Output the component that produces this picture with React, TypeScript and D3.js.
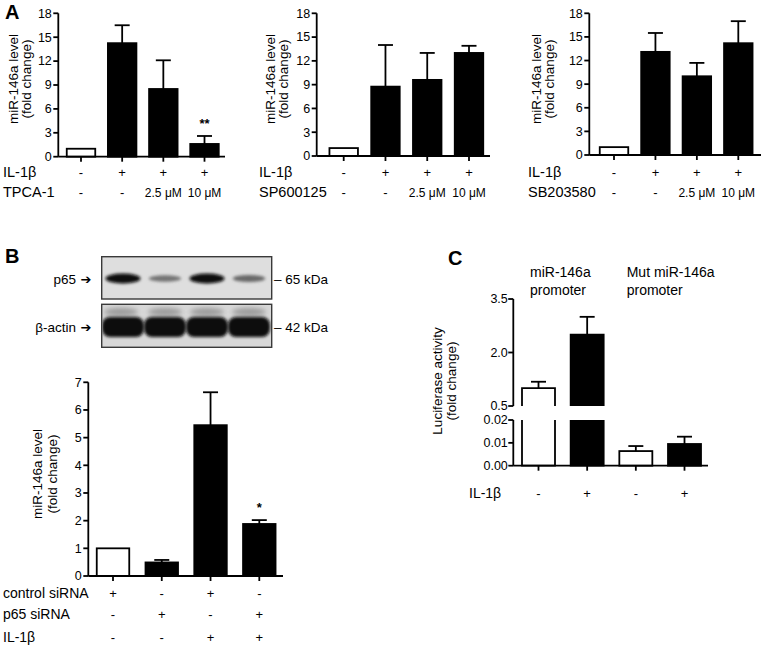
import React from "react";
import * as d3 from "d3";

const FONT = "'Liberation Sans', Arial, Helvetica, sans-serif";

// ---------- Panel A data ----------
const aTicks = [0, 3, 6, 9, 12, 15, 18];
const aIL1b = ["-", "+", "+", "+"];
const aDose = ["-", "-", "2.5 μM", "10 μM"];
const aInhibitors = ["TPCA-1", "SP600125", "SB203580"];
const tpcaMeans = [1, 14.25, 8.5, 1.6];
const tpcaErr = [0, 2.25, 3.6, 1.0];
const spMeans = [1, 8.75, 9.6, 13.0];
const spErr = [0, 5.25, 3.4, 0.9];
const sbMeans = [1, 13.1, 10.0, 14.2];
const sbErr = [0, 2.4, 1.7, 2.8];
const aFills = ["white", "black", "black", "black"];
const tpcaSig = ["", "", "", "**"];

// ---------- Panel B data ----------
const bTicks = [0, 1, 2, 3, 4, 5, 6, 7];
const bMeans = [1, 0.49, 5.45, 1.88];
const bErr = [0, 0.09, 1.19, 0.14];
const bFills = ["white", "black", "black", "black"];
const bSig = ["", "", "", "*"];
const bRows = ["control siRNA", "p65 siRNA", "IL-1β"];
const bRowVals = [
  ["+", "-", "+", "-"],
  ["-", "+", "-", "+"],
  ["-", "-", "+", "+"],
];
const blotP65 = [1, 0.45, 1, 0.5];
const blotActin = [1, 1, 1, 1];

// ---------- Panel C data ----------
const cUpperTicks = [0.5, 2.0, 3.5];
const cLowerTicks = [0, 0.01, 0.02];
const cMeans = [1.0, 2.5, 0.0064, 0.0095];
const cErr = [0.18, 0.5, 0.0022, 0.0032];
const cFills = ["white", "black", "white", "black"];
const cIL1b = ["-", "+", "-", "+"];
const cHeaders = [["miR-146a", "promoter"], ["Mut miR-146a", "promoter"]];

const SW = 1.8;

function YLabel({ x1, x2, cy, lines, size = 13.5 }) {
  return (
    <g fontFamily={FONT} fontSize={size} textAnchor="middle">
      <text transform={`translate(${x1},${cy}) rotate(-90)`}>{lines[0]}</text>
      <text transform={`translate(${x2},${cy}) rotate(-90)`}>{lines[1]}</text>
    </g>
  );
}

function BarPanel({ axisX, y0, y1, yMax, ticks, c0, c1, xEnd, barW, means, errs, fills, sig = null, fmt = (d) => String(d) }) {
  const y = d3.scaleLinear().domain([0, yMax]).range([y0, y1]);
  const x = d3.scalePoint().domain(d3.range(means.length)).range([c0, c1]);
  return (
    <g>
      {means.map((m, i) => {
        const cx = x(i);
        const top = y(m);
        const e = y(m + errs[i]);
        return (
          <g key={i}>
            {errs[i] > 0 && (
              <g stroke="black" strokeWidth={SW}>
                <line x1={cx} x2={cx} y1={top} y2={e} />
                <line x1={cx - 7.5} x2={cx + 7.5} y1={e} y2={e} />
              </g>
            )}
            <rect x={cx - barW / 2} y={top} width={barW} height={y0 - top} fill={fills[i]} stroke="black" strokeWidth={SW} />
            {sig && sig[i] && (
              <text x={cx} y={e - 8} textAnchor="middle" fontFamily={FONT} fontSize={13} fontWeight="bold">{sig[i]}</text>
            )}
          </g>
        );
      })}
      <g stroke="black" strokeWidth={SW}>
        <line x1={axisX} x2={axisX} y1={y(yMax)} y2={y0} />
        <line x1={axisX} x2={xEnd} y1={y0} y2={y0} />
        {ticks.map((t) => (
          <line key={t} x1={axisX - 5} x2={axisX} y1={y(t)} y2={y(t)} />
        ))}
        {means.map((_, i) => (
          <line key={i} x1={x(i)} x2={x(i)} y1={y0} y2={y0 + 5} />
        ))}
      </g>
      <g fontFamily={FONT} fontSize={12.5} textAnchor="end">
        {ticks.map((t) => (
          <text key={t} x={axisX - 6.5} y={y(t)} dy="0.35em">{fmt(t)}</text>
        ))}
      </g>
    </g>
  );
}

function ColLabels({ c0, c1, vals, yb, size = 13 }) {
  const x = d3.scalePoint().domain(d3.range(vals.length)).range([c0, c1]);
  return (
    <g fontFamily={FONT} fontSize={size} textAnchor="middle">
      {vals.map((v, i) => (
        <text key={i} x={x(i)} y={yb} fontSize={v.length > 1 ? 12 : size}>{v}</text>
      ))}
    </g>
  );
}

function PanelA({ axisX, y0, c0, c1, xEnd, means, errs, sig, rowX, name, lx1, lx2 }) {
  return (
    <g>
      <BarPanel axisX={axisX} y0={y0} y1={13.3} yMax={18} ticks={aTicks} c0={c0} c1={c1} xEnd={xEnd} barW={28.5} means={means} errs={errs} fills={aFills} sig={sig} />
      <YLabel x1={lx1} x2={lx2} cy={79} lines={["miR-146a level", "(fold change)"]} />
      <text x={rowX} y={177} fontFamily={FONT} fontSize={14.5}>IL-1β</text>
      <text x={rowX} y={197} fontFamily={FONT} fontSize={14.5}>{name}</text>
      <ColLabels c0={c0} c1={c1} vals={aIL1b} yb={177} />
      <ColLabels c0={c0} c1={c1} vals={aDose} yb={197} />
    </g>
  );
}

function Blot() {
  const lanes = d3.scalePoint().domain(d3.range(4)).range([123, 249]);
  const grayP = d3.scaleLinear().domain([0, 1]).range([200, 10]);
  return (
    <g>
      <defs>
        <filter id="blur" x="-20%" y="-50%" width="140%" height="200%">
          <feGaussianBlur stdDeviation="1.6" />
        </filter>
        <filter id="blur2" x="-20%" y="-50%" width="140%" height="200%">
          <feGaussianBlur stdDeviation="2.5" />
        </filter>
        <clipPath id="actinClip">
          <rect x={102.5} y={305} width={168.5} height={41.6} />
        </clipPath>
      </defs>
      <rect x={101.7} y={256.7} width={170} height={42.3} fill="#dedede" stroke="#3a3a3a" strokeWidth={1.4} />
      {blotP65.map((v, i) => {
        const g = Math.round(grayP(v));
        const h = 4 + 6 * v;
        const w = 30 + 5 * v;
        return (
          <ellipse key={i} cx={lanes(i)} cy={278.5} rx={w / 2} ry={h / 2} fill={`rgb(${g},${g},${g})`} filter="url(#blur)" />
        );
      })}
      <rect x={101.7} y={304.3} width={170} height={43} fill="#d8d8d8" stroke="#3a3a3a" strokeWidth={1.4} />
      <g clipPath="url(#actinClip)">
        {blotActin.map((v, i) => (
          <g key={i}>
            <ellipse cx={lanes(i) + (i === 0 ? -2 : 0)} cy={312} rx={17} ry={4} fill="#9a9a9a" filter="url(#blur2)" />
            <rect x={lanes(i) - 21} y={317} width={42} height={20 * v} rx={8} fill="#0b0b0b" filter="url(#blur)" />
          </g>
        ))}
      </g>
      <g fontFamily={FONT} fontSize={13.5}>
        <text x={76} y={284} textAnchor="end">p65</text>
        <text x={76} y={332} textAnchor="end">β-actin</text>
        <text x={80.5} y={284} fontFamily="'DejaVu Sans', sans-serif" fontSize={13} fontWeight="bold">➔</text>
        <text x={80.5} y={332} fontFamily="'DejaVu Sans', sans-serif" fontSize={13} fontWeight="bold">➔</text>
        <text x={274} y={284}>– 65 kDa</text>
        <text x={274} y={332}>– 42 kDa</text>
      </g>
    </g>
  );
}

function PanelB() {
  const c0 = 113, c1 = 259.3;
  const x = d3.scalePoint().domain(d3.range(4)).range([c0, c1]);
  const rowY = [598, 619, 642];
  return (
    <g>
      <text x={5} y={263} fontFamily={FONT} fontSize={20} fontWeight="bold">B</text>
      <Blot />
      <BarPanel axisX={88.3} y0={576} y1={382.3} yMax={7} ticks={bTicks} c0={c0} c1={c1} xEnd={283} barW={32.5} means={bMeans} errs={bErr} fills={bFills} sig={bSig} />
      <YLabel x1={42} x2={56.5} cy={474} lines={["miR-146a level", "(fold change)"]} />
      {bRows.map((r, j) => (
        <g key={r}>
          <text x={3} y={rowY[j]} fontFamily={FONT} fontSize={14}>{r}</text>
          {bRowVals[j].map((v, i) => (
            <text key={i} x={x(i)} y={rowY[j]} textAnchor="middle" fontFamily={FONT} fontSize={13}>{v}</text>
          ))}
        </g>
      ))}
    </g>
  );
}

function PanelC() {
  const axisX = 513.3;
  const yU = d3.scaleLinear().domain([0.5, 3.5]).range([406, 299]);
  const yL = d3.scaleLinear().domain([0, 0.02]).range([465.7, 420]);
  const x = d3.scalePoint().domain(d3.range(4)).range([538.5, 684.5]);
  const bw = 33;
  const fmtU = d3.format(".1f");
  const fmtL = d3.format(".2f");
  return (
    <g>
      <text x={448} y={265} fontFamily={FONT} fontSize={20} fontWeight="bold">C</text>
      <g fontFamily={FONT} fontSize={14}>
        {cHeaders.map((h, k) => (
          <g key={k}>
            <text x={k === 0 ? 530 : 626.7} y={277}>{h[0]}</text>
            <text x={k === 0 ? 530 : 626.7} y={295}>{h[1]}</text>
          </g>
        ))}
      </g>
      {cMeans.map((m, i) => {
        const cx = x(i);
        const l = cx - bw / 2, r = cx + bw / 2;
        if (m > 0.02) {
          const top = yU(m);
          const e = yU(m + cErr[i]);
          return (
            <g key={i} stroke="black" strokeWidth={SW}>
              <line x1={cx} x2={cx} y1={top} y2={e} />
              <line x1={cx - 7.5} x2={cx + 7.5} y1={e} y2={e} />
              <path d={`M${l},406 L${l},${top} L${r},${top} L${r},406`} fill={cFills[i]} />
              <path d={`M${l},420 L${l},465.7 L${r},465.7 L${r},420`} fill={cFills[i]} />
            </g>
          );
        }
        const top = yL(m);
        const e = yL(m + cErr[i]);
        return (
          <g key={i} stroke="black" strokeWidth={SW}>
            <line x1={cx} x2={cx} y1={top} y2={e} />
            <line x1={cx - 7.5} x2={cx + 7.5} y1={e} y2={e} />
            <rect x={l} y={top} width={bw} height={465.7 - top} fill={cFills[i]} />
          </g>
        );
      })}
      <g stroke="black" strokeWidth={SW}>
        <line x1={axisX} x2={axisX} y1={299} y2={406} />
        <line x1={axisX} x2={axisX} y1={420} y2={465.7} />
        <line x1={axisX} x2={708} y1={465.7} y2={465.7} />
        {cUpperTicks.map((t) => (
          <line key={t} x1={axisX - 5} x2={axisX} y1={yU(t)} y2={yU(t)} />
        ))}
        {cLowerTicks.map((t) => (
          <line key={t} x1={axisX - 5} x2={axisX} y1={yL(t)} y2={yL(t)} />
        ))}
        {cMeans.map((_, i) => (
          <line key={i} x1={x(i)} x2={x(i)} y1={465.7} y2={470.7} />
        ))}
      </g>
      <g fontFamily={FONT} fontSize={12.5} textAnchor="end">
        {cUpperTicks.map((t) => (
          <text key={t} x={axisX - 5.5} y={yU(t)} dy="0.35em">{fmtU(t)}</text>
        ))}
        {cLowerTicks.map((t) => (
          <text key={t} x={axisX - 5.5} y={yL(t)} dy="0.35em">{fmtL(t)}</text>
        ))}
      </g>
      <YLabel x1={441.5} x2={456} cy={381} lines={["Luciferase activity", "(fold change)"]} />
      <text x={469} y={498} fontFamily={FONT} fontSize={14}>IL-1β</text>
      {cIL1b.map((v, i) => (
        <text key={i} x={x(i)} y={498} textAnchor="middle" fontFamily={FONT} fontSize={13}>{v}</text>
      ))}
    </g>
  );
}

export default function App() {
  return (
    <svg width={761} height={647} viewBox="0 0 761 647" style={{ position: "absolute", left: 0, top: 0, background: "white" }}>
      <rect width={761} height={647} fill="white" />
      <text x={5} y={18.5} fontFamily={FONT} fontSize={20} fontWeight="bold">A</text>
      <PanelA axisX={58.3} y0={156.7} c0={81} c1={204.5} xEnd={225} means={tpcaMeans} errs={tpcaErr} sig={tpcaSig} rowX={3} name={aInhibitors[0]} lx1={18} lx2={31} />
      <PanelA axisX={316.7} y0={156} c0={343.7} c1={469} xEnd={490} means={spMeans} errs={spErr} sig={null} rowX={259} name={aInhibitors[1]} lx1={274.5} lx2={287.5} />
      <PanelA axisX={589.3} y0={155} c0={614} c1={738.3} xEnd={761} means={sbMeans} errs={sbErr} sig={null} rowX={528} name={aInhibitors[2]} lx1={540.5} lx2={553.5} />
      <PanelB />
      <PanelC />
    </svg>
  );
}
